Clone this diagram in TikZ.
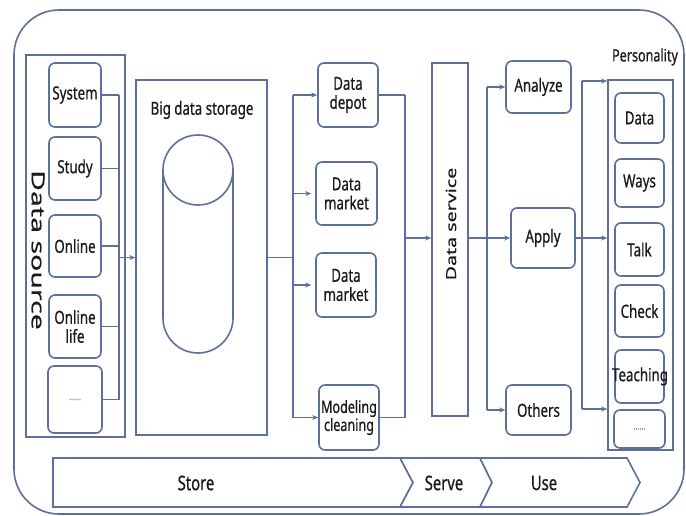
\documentclass[tikz,border=0pt]{standalone}
\usepackage{fontspec}
\setmainfont{Noto Sans}[FakeStretch=0.74, FakeBold=0.6]
\newfontfamily\widefont{Noto Sans}[FakeStretch=1.4, FakeBold=0.6]
\newfontfamily\widerfont{Noto Sans}[FakeStretch=1.58, FakeBold=0.6]
\usetikzlibrary{arrows.meta}
\definecolor{lc}{HTML}{5E7099}
\definecolor{tc}{HTML}{1A1A1A}
\tikzset{
  ln/.style={draw=lc, line width=1.6pt},
  rbox/.style={ln, rounded corners=6pt, fill=white, inner sep=1pt, align=center, text=tc, font=\fontsize{18}{20}\selectfont},
  sbox/.style={ln, fill=white},
  arr/.style={draw=lc, line width=1.6pt, -{Stealth[length=6pt,width=5pt]}},
  conn/.style={draw=lc, line width=1.6pt},
  dots/.style={font=\fontsize{10}{10}\selectfont, text=gray}
}
\begin{document}
\begin{tikzpicture}[x=1pt,y=-1pt]
\useasboundingbox (0,0) rectangle (686,516);
\fill[white] (0,0) rectangle (686,516);
% outer frame
\draw[ln, rounded corners=45pt] (14,10) rectangle (684,514);

% data source
\node[sbox, minimum width=99pt, minimum height=382pt] (src) at (75.5,246) {};
\node[rotate=-90, text=tc, font=\widerfont\fontsize{18}{20}\selectfont] (srct) at (38,250) {Data source};
\node[rbox, minimum width=52pt, minimum height=64pt] (sys) at (75,95) {System};
\node[rbox, minimum width=52pt, minimum height=63pt] (stu) at (75,168.5) {Study};
\node[rbox, minimum width=52pt, minimum height=62pt] (onl) at (75,246) {Online};
\node[rbox, minimum width=52pt, minimum height=63pt] (onll) at (75,326.5) {Online\\[-1pt]life};
\node[rbox, minimum width=52pt, minimum height=65pt] (sdot) at (75,399.5) {\tikz[baseline]\node[dots,inner sep=0]{......};};
\coordinate (busA) at (119,0);
\foreach \n in {sys,stu,onl,onll,sdot} \draw[conn] (\n.east) -- (\n.east -| busA);
\draw[conn] (sys.east -| busA) -- (sdot.east -| busA);

% big data storage
\node[sbox, minimum width=131pt, minimum height=355pt] (big) at (201.5,257.5) {};
\node[text=tc, font=\fontsize{18}{20}\selectfont] (bigt) at (202,110) {Big data storage};
\draw[arr] (big.west -| busA) -- (big.west);
\draw[ln] (198,170) circle[radius=35pt];
\draw[ln] (163,170) -- (163,318) .. controls (163,337.3) and (178.7,353) .. (198,353)
  .. controls (217.3,353) and (233,337.3) .. (233,318) -- (233,170);

% middle column
\node[rbox, minimum width=60pt, minimum height=64pt] (dep) at (348,95) {Data\\[-1pt]depot};
\node[rbox, minimum width=61pt, minimum height=63pt] (mk1) at (346.5,193.5) {Data\\[-1pt]market};
\node[rbox, minimum width=60pt, minimum height=64pt] (mk2) at (346,285) {Data\\[-1pt]market};
\node[rbox, minimum width=60pt, minimum height=65pt, font=\fontsize{17}{19}\selectfont] (mod) at (349,417.5) {Modeling\\[-1pt]cleaning};
\coordinate (busB) at (293,0);
\draw[conn] (big.east) -- (big.east -| busB);
\draw[conn] (dep.west -| busB) -- (mod.west -| busB);
\draw[arr] (dep.west -| busB) -- (dep.west);
\draw[arr, shorten >=4pt] (mk1.west -| busB) -- (mk1.west);
\draw[arr, shorten >=4pt] (mk2.west -| busB) -- (mk2.west);
\draw[arr] (mod.west -| busB) -- (mod.west);
\coordinate (busC) at (405,0);
\draw[conn] (dep.east) -- (dep.east -| busC);
\draw[conn] (mod.east) -- (mod.east -| busC);
\draw[conn] (dep.east -| busC) -- (mod.east -| busC);

% data service
\node[sbox, minimum width=36pt, minimum height=353pt] (svc) at (450,239.5) {};
\node[rotate=90, text=tc, font=\widefont\fontsize{14}{16}\selectfont] (svct) at (451,224) {Data service};
\coordinate (yC) at (0,238);
\draw[arr] (busC |- yC) -- (svc.west |- yC);

% use column
\node[rbox, minimum width=65pt, minimum height=52pt] (ana) at (538.5,87) {Analyze};
\node[rbox, minimum width=64pt, minimum height=60pt] (app) at (543,238) {Apply};
\node[rbox, minimum width=65pt, minimum height=50pt] (oth) at (538.5,410) {Others};
\coordinate (busD) at (487,0);
\draw[conn] (svc.east |- yC) -- (busD |- yC);
\draw[conn] (ana.west -| busD) -- (oth.west -| busD);
\draw[arr] (ana.west -| busD) -- (ana.west);
\draw[arr] (app.west -| busD) -- (app.west);
\draw[arr] (oth.west -| busD) -- (oth.west);

% personality
\node[sbox, minimum width=65pt, minimum height=370pt] (per) at (640.5,265) {};
\node[text=tc, font=\fontsize{17}{19}\selectfont] (pert) at (645,57) {Personality};
\node[rbox, minimum width=49pt, minimum height=50pt] (p1) at (639.5,118) {Data};
\node[rbox, minimum width=49pt, minimum height=48pt] (p2) at (639.5,183) {Ways};
\node[rbox, minimum width=49pt, minimum height=53pt] (p3) at (639.5,249.5) {Talk};
\node[rbox, minimum width=49pt, minimum height=52pt] (p4) at (639.5,311) {Check};
\node[rbox, minimum width=49pt, minimum height=53pt] (p5) at (639.5,376.5) {};
\node[text=tc, font=\fontsize{18}{20}\selectfont] (p5t) at (640,376.5) {Teaching};
\node[rbox, minimum width=49pt, minimum height=36pt] (p6) at (639.5,429) {\tikz[baseline]\node[dots,inner sep=0]{......};};
\coordinate (busE) at (582,0);
\coordinate (yE1) at (0,81);
\coordinate (yE3) at (0,409);
\draw[conn] (busE |- yE1) -- (busE |- yE3);
\draw[arr] (app.east) -- (per.west |- app.east);
\draw[arr] (busE |- yE1) -- (per.west |- yE1);
\draw[arr] (busE |- yE3) -- (per.west |- yE3);

% bottom phases
\draw[ln, fill=white] (53,458) -- (400,458) -- (413,482.5) -- (400,507) -- (53,507) -- cycle;
\draw[ln, fill=white] (400,458) -- (480,458) -- (492,482.5) -- (480,507) -- (400,507) -- (413,482.5) -- cycle;
\draw[ln, fill=white] (480,458) -- (627,458) -- (640,482.5) -- (627,507) -- (480,507) -- (492,482.5) -- cycle;
\node[text=tc, font=\fontsize{20}{22}\selectfont] (st) at (196,483) {Store};
\node[text=tc, font=\fontsize{20}{22}\selectfont] (se) at (444,483) {Serve};
\node[text=tc, font=\fontsize{20}{22}\selectfont] (us) at (544,483) {Use};
\end{tikzpicture}
\end{document}
